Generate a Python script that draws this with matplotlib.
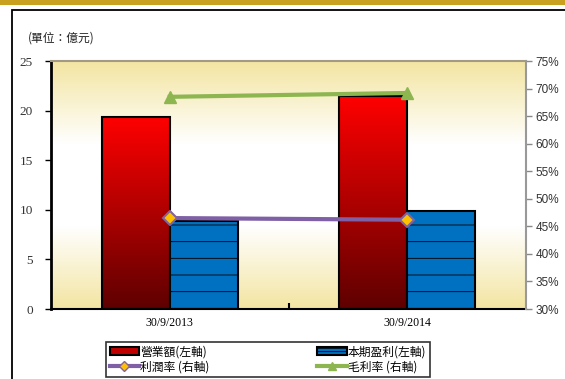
import matplotlib
matplotlib.use("Agg")
import matplotlib.pyplot as plt
import numpy as np
from matplotlib.patches import Rectangle
from matplotlib.lines import Line2D
from matplotlib.colors import LinearSegmentedColormap

plt.rcParams['font.family'] = ['Noto Sans CJK TC', 'DejaVu Sans']

# data
periods = ["30/9/2013", "30/9/2014"]
revenue = [19.4, 21.5]          # 營業額 (左軸)
profit = [8.9, 9.9]             # 本期盈利 (左軸)
net_margin = [46.5, 46.2]       # 利潤率 (右軸), %
gross_margin = [68.5, 69.2]     # 毛利率 (右軸), %

fig = plt.figure(figsize=(5.65, 3.79), dpi=100)

# golden strip on top and the outer frame
fig.patches.append(Rectangle((0, 1 - 5 / 379), 1, 5 / 379, transform=fig.transFigure,
                             facecolor='#C9A11E', edgecolor='none', zorder=0))
fig.patches.append(Rectangle((12 / 565, -0.1), 1.2, 1 - 10 / 379 + 0.1, transform=fig.transFigure,
                             facecolor='none', edgecolor='black', linewidth=1.3, zorder=1))

ax = fig.add_axes([51 / 565, 1 - 309 / 379, 475 / 565, 248 / 379])
ax.set_facecolor('none')

# background gradient (yellow at top/bottom, white in the middle)
bg = LinearSegmentedColormap.from_list('bg', ['#F3E5A2', '#FFFFFF', '#FFFFFF', '#F3E5A2'])
grad = np.linspace(0, 1, 256).reshape(-1, 1)
ax.imshow(grad, cmap=bg, aspect='auto', extent=[0, 1, 0, 1], transform=ax.transAxes, zorder=0)

x = np.arange(len(periods))
w = 0.286
red_cmap = LinearSegmentedColormap.from_list('red', ['#5E0000', '#FF0000'])

rev_bars = ax.bar(x - w / 2, revenue, width=w, facecolor='none', edgecolor='black',
                  linewidth=1.5, zorder=3)
for b in rev_bars:
    bx, by = b.get_x(), b.get_y()
    im = ax.imshow(np.linspace(0, 1, 256).reshape(-1, 1), cmap=red_cmap, origin='lower',
                   aspect='auto', extent=[bx, bx + b.get_width(), by, by + b.get_height()],
                   zorder=2)
    im.set_clip_path(b)

plt.rcParams['hatch.color'] = '#1a1a1a'
plt.rcParams['hatch.linewidth'] = 0.6
ax.bar(x + w / 2, profit, width=w, color='#0070C0', edgecolor='black', linewidth=1.5,
       hatch='-', zorder=3)

ax.set_xlim(-0.5, 1.5)
ax.set_ylim(0, 25)
ax.set_yticks(range(0, 26, 5))
ax.set_xticks(x)
ax.set_xticklabels(periods, family='Liberation Serif', fontsize=8.5)
ax.set_xticks([0.5], minor=True)
ax.tick_params(axis='x', which='major', length=0, pad=6)
ax.tick_params(axis='x', which='minor', direction='in', length=4, width=1.5)
ax.tick_params(axis='y', length=4, width=1, labelsize=9.5, pad=9)
for lbl in ax.get_yticklabels():
    lbl.set_family('Liberation Serif')
    lbl.set_color('#333333')
ax.spines['left'].set_linewidth(2)
ax.spines['bottom'].set_linewidth(1.5)
ax.spines['top'].set_color('#A39A86')
ax.spines['top'].set_linewidth(1.5)
ax.spines['right'].set_visible(False)

ax2 = ax.twinx()
ax2.set_ylim(30, 75)
ax2.set_yticks(range(30, 76, 5))
ax2.set_yticklabels([f"{v}%" for v in range(30, 76, 5)], family='Liberation Sans', fontsize=8.5,
                    color='#333333')
ax2.tick_params(axis='y', length=4, width=1, color='#888888', pad=3)
for s in ['left', 'top', 'bottom']:
    ax2.spines[s].set_visible(False)
ax2.spines['right'].set_color('#999999')
ax2.spines['right'].set_linewidth(1.5)

ax2.plot(x, net_margin, color='#7F5FA5', linewidth=3, marker='D', markersize=7,
         markerfacecolor='#FFC000', markeredgecolor='#8064A2', markeredgewidth=1.5, zorder=5)
ax2.plot(x, gross_margin, color='#8DB650', linewidth=3, marker='^', markersize=8,
         markerfacecolor='#8DB650', markeredgecolor='#8DB650', zorder=5)

fig.text(28 / 565, 1 - 38 / 379, "(單位：億元)", fontsize=8.5, va='center', ha='left', color='#222222')

handles = [
    Rectangle((0, 0), 1, 1, facecolor='#C00000', edgecolor='black', linewidth=1.5),
    Line2D([], [], color='#7F5FA5', linewidth=3, marker='D', markersize=5,
           markerfacecolor='#FFC000', markeredgecolor='#8064A2'),
    Rectangle((0, 0), 1, 1, facecolor='#0070C0', edgecolor='black', linewidth=1.5, hatch='-----'),
    Line2D([], [], color='#8DB650', linewidth=3, marker='^', markersize=6,
           markerfacecolor='#8DB650', markeredgecolor='#8DB650'),
]
labels = ["營業額(左軸)", "利潤率 (右軸)", "本期盈利(左軸)", "毛利率 (右軸)"]
leg = fig.legend(handles, labels, ncol=2, loc='lower left',
                 bbox_to_anchor=(106 / 565, 1 - 377 / 379, 324 / 565, 44 / 379),
                 mode='expand', fontsize=8.5, frameon=True, fancybox=False,
                 edgecolor='black', handlelength=2.5, handletextpad=0.1,
                 borderaxespad=0, labelspacing=0.2, borderpad=0.3, columnspacing=1)
leg.get_frame().set_linewidth(1.2)

fig.savefig("out.png", dpi=100)
